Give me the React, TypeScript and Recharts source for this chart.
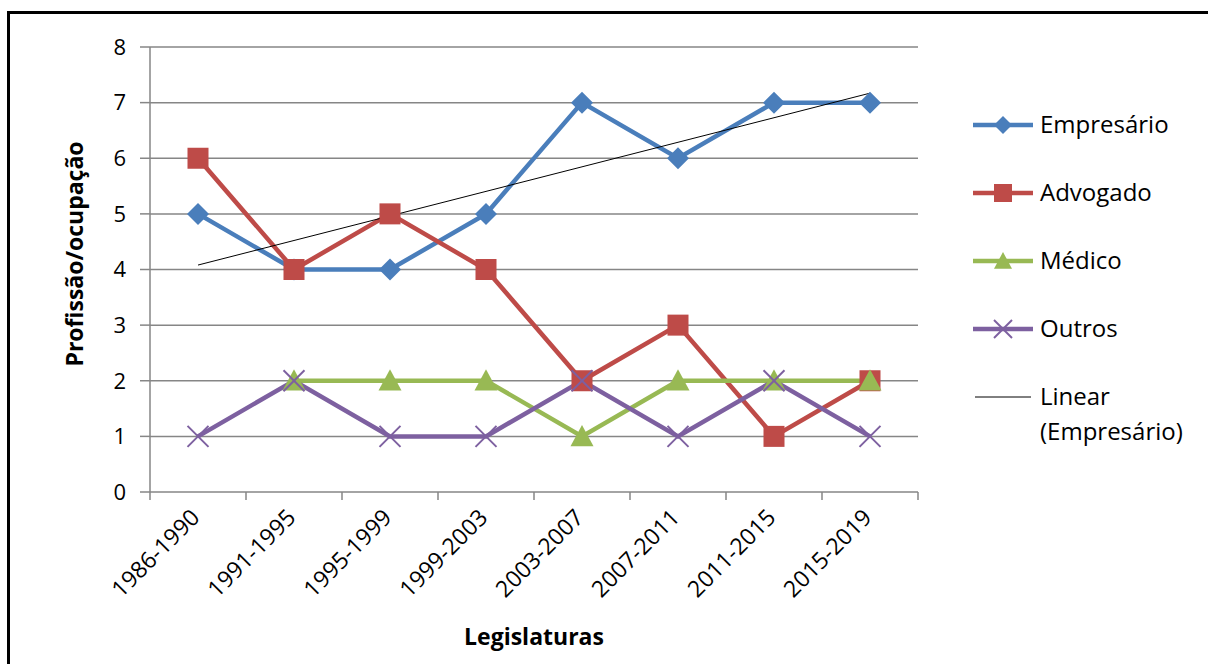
import { CartesianGrid, Legend, Line, LineChart, XAxis, YAxis } from 'recharts';

const legislaturas = [
    '1986-1990',
    '1991-1995',
    '1995-1999',
    '1999-2003',
    '2003-2007',
    '2007-2011',
    '2011-2015',
    '2015-2019',
];
const empresario = [5, 4, 4, 5, 7, 6, 7, 7];
const advogado = [6, 4, 5, 4, 2, 3, 1, 2];
const medico = [null, 2, 2, 2, 1, 2, 2, 2];
const outros = [1, 2, 1, 1, 2, 1, 2, 1];
// trend line: start and end only
const linear = [4.08, null, null, null, null, null, null, 7.17];
const yTicks = [0, 1, 2, 3, 4, 5, 6, 7, 8];

const FONT = '"Open Sans", sans-serif';
const GRID = '#868686';

const data = legislaturas.map((name, i) => ({
    name,
    empresario: empresario[i],
    advogado: advogado[i],
    medico: medico[i],
    outros: outros[i],
    linear: linear[i],
}));

const Diamond = ({ cx, cy, fill, s = 11 }: any) =>
    cx == null || cy == null ? null : (
        <polygon points={`${cx},${cy - s} ${cx + s},${cy} ${cx},${cy + s} ${cx - s},${cy}`} fill={fill} />
    );

const Square = ({ cx, cy, fill, s = 10.5 }: any) =>
    cx == null || cy == null ? null : <rect x={cx - s} y={cy - s} width={s * 2} height={s * 2} fill={fill} />;

const Triangle = ({ cx, cy, fill, s = 11.5 }: any) =>
    cx == null || cy == null ? null : (
        <polygon points={`${cx},${cy - s} ${cx + s},${cy + s * 0.85} ${cx - s},${cy + s * 0.85}`} fill={fill} />
    );

const Cross = ({ cx, cy, stroke, s = 10.5 }: any) =>
    cx == null || cy == null ? null : (
        <g stroke={stroke} strokeWidth={2}>
            <line x1={cx - s} y1={cy - s} x2={cx + s} y2={cy + s} />
            <line x1={cx - s} y1={cy + s} x2={cx + s} y2={cy - s} />
        </g>
    );

const series = [
    { key: 'empresario', name: 'Empresário', color: '#4A7EBB', Marker: Diamond },
    { key: 'advogado', name: 'Advogado', color: '#BE4B48', Marker: Square },
    { key: 'medico', name: 'Médico', color: '#98B954', Marker: Triangle },
    { key: 'outros', name: 'Outros', color: '#7D60A0', Marker: Cross },
];

// label at the band centre, tick marks on the band edges (Excel style)
const CategoryTick = ({ x, y, payload, index, width, visibleTicksCount }: any) => {
    const half = width / visibleTicksCount / 2;
    const last = index === visibleTicksCount - 1;
    return (
        <g>
            <line x1={x - half} y1={y} x2={x - half} y2={y + 8} stroke={GRID} strokeWidth={1.5} />
            {last && <line x1={x + half} y1={y} x2={x + half} y2={y + 8} stroke={GRID} strokeWidth={1.5} />}
            <text
                x={x + 3}
                y={y + 27}
                textAnchor="end"
                transform={`rotate(-45, ${x + 3}, ${y + 27})`}
                fontFamily={FONT}
                fontSize={23}
                fill="#000"
            >
                {payload.value}
            </text>
        </g>
    );
};

const LegendBox = () => (
    <svg width={236} height={345}>
        {series.map((s, i) => {
            const cy = 20 + i * 68;
            const { Marker } = s;
            return (
                <g key={s.key}>
                    <line x1={3} y1={cy} x2={63} y2={cy} stroke={s.color} strokeWidth={4.5} />
                    <Marker cx={33} cy={cy} fill={s.color} stroke={s.color} s={9} />
                    <text x={70} y={cy + 8} fontFamily={FONT} fontSize={24} fill="#000">
                        {s.name}
                    </text>
                </g>
            );
        })}
        <line x1={5} y1={292} x2={61} y2={292} stroke="#000" strokeWidth={1} />
        <text x={70} y={300} fontFamily={FONT} fontSize={24} fill="#000">
            Linear
        </text>
        <text x={70} y={335} fontFamily={FONT} fontSize={24} fill="#000">
            (Empresário)
        </text>
    </svg>
);

const YTitle = () => (
    <text
        x={83}
        y={254}
        textAnchor="middle"
        transform="rotate(-90, 83, 254)"
        fontFamily={FONT}
        fontSize={23}
        fontWeight="bold"
        fill="#000"
    >
        Profissão/ocupação
    </text>
);

export default function App() {
    return (
        <div
            style={{
                position: 'fixed',
                left: 0,
                top: 0,
                width: 1208,
                height: 664,
                background: '#fff',
                overflow: 'hidden',
            }}
        >
            <div
                style={{
                    position: 'absolute',
                    left: 7,
                    top: 11,
                    width: 1300,
                    height: 800,
                    borderLeft: '3px solid #000',
                    borderTop: '3px solid #000',
                }}
            />
            <div style={{ position: 'absolute', left: 0, top: 0 }}>
                <LineChart
                    width={1208}
                    height={664}
                    data={data}
                    margin={{ top: 47, right: 290, left: 90, bottom: 171 }}
                >
                    <CartesianGrid vertical={false} stroke={GRID} strokeWidth={1.5} />
                    <XAxis
                        dataKey="name"
                        scale="band"
                        height={1}
                        tickLine={false}
                        tickSize={0}
                        tickMargin={0}
                        axisLine={false}
                        tick={<CategoryTick />}
                        interval={0}
                        label={{
                            value: 'Legislaturas',
                            position: 'bottom',
                            offset: 136,
                            fontFamily: FONT,
                            fontSize: 23,
                            fontWeight: 'bold',
                            fill: '#000',
                        }}
                    />
                    <YAxis
                        width={60}
                        domain={[0, 8]}
                        ticks={yTicks}
                        tickSize={10}
                        tickMargin={14}
                        axisLine={{ stroke: GRID, strokeWidth: 1.5 }}
                        tickLine={{ stroke: GRID, strokeWidth: 1.5 }}
                        tick={{ fontFamily: FONT, fontSize: 22, fill: '#000' }}
                        label={{ content: <YTitle /> }}
                    />
                    {series.map(({ key, name, color, Marker }) => (
                        <Line
                            key={key}
                            dataKey={key}
                            name={name}
                            stroke={color}
                            strokeWidth={4.5}
                            isAnimationActive={false}
                            dot={<Marker fill={color} stroke={color} />}
                            activeDot={false}
                        />
                    ))}
                    <Line
                        dataKey="linear"
                        name="Linear (Empresário)"
                        stroke="#000"
                        strokeWidth={1}
                        connectNulls
                        dot={false}
                        activeDot={false}
                        isAnimationActive={false}
                    />
                    <Legend
                        layout="vertical"
                        align="center"
                        verticalAlign="middle"
                        content={<LegendBox />}
                        wrapperStyle={{ position: 'absolute', left: 970, top: 105, width: 236 }}
                    />
                </LineChart>
            </div>
        </div>
    );
}
